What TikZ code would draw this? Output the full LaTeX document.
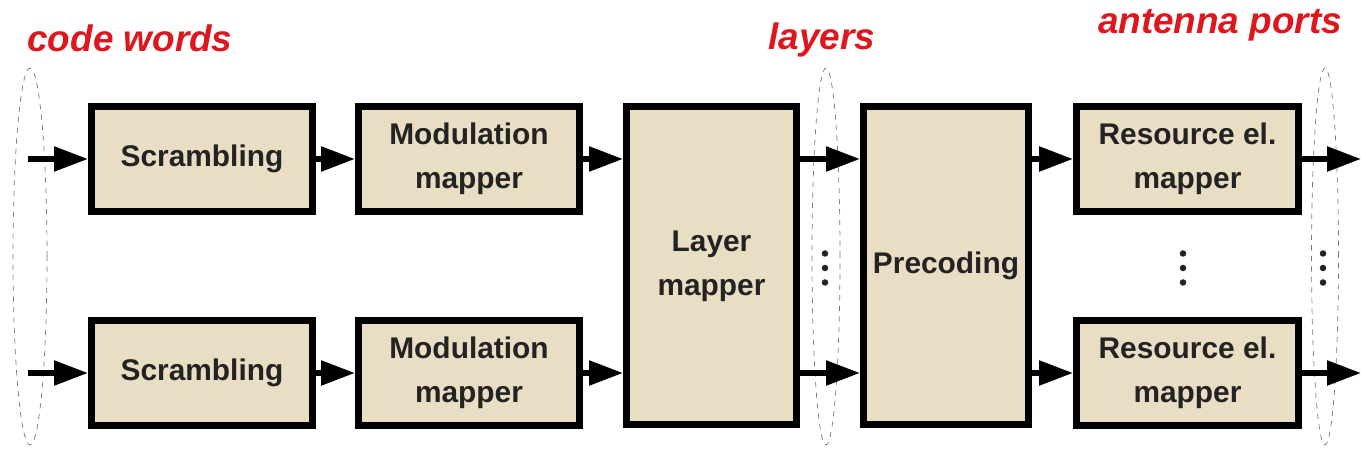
\documentclass[tikz,border=0pt]{standalone}
\usepackage{fontspec}
\setmainfont{Liberation Sans}
\usepackage{xcolor}
\usetikzlibrary{shapes.geometric, arrows.meta, positioning, calc}
\definecolor{boxfill}{RGB}{233, 222, 196}
\definecolor{boxtext}{RGB}{35, 35, 35}
\definecolor{lblred}{RGB}{222, 22, 30}
\definecolor{ringgray}{RGB}{120, 120, 120}
\tikzset{
  block/.style={rectangle, draw=black, fill=boxfill, line width=0.14cm,
                minimum width=#1, minimum height=2.10cm, align=center,
                text=boxtext, font=\fontsize{17}{25}\selectfont\bfseries},
  block/.default=4.42cm,
  tallblock/.style={block=#1, minimum height=6.36cm},
  tallblock/.default=3.40cm,
  arrow/.style={-{Triangle[length=0.68cm, width=0.48cm]}, line width=0.11cm, black},
  ring/.style={draw=ringgray, dashed, thin, ellipse, inner sep=0pt, minimum height=7.54cm},
  redlabel/.style={text=lblred, font=\fontsize{21}{24}\selectfont\bfseries\itshape},
  vdot/.style={fill=boxtext, draw=none},
}

\begin{document}
\begin{tikzpicture}
  \useasboundingbox (0,0) rectangle (27.22,9.1);

  % dashed groupings
  \node[ring, minimum width=0.68cm] (cwring) at (0.60,3.97) {};
  \node[ring, minimum width=0.56cm] (layring) at (16.52,3.97) {};
  \node[ring, minimum width=0.54cm] (apring) at (26.50,3.97) {};

  % blocks
  \node[block] (scr1) at (4.04,5.92) {Scrambling};
  \node[block] (scr2) at (4.04,1.64) {Scrambling};
  \node[block] (mod1) at (9.38,5.92) {Modulation\\mapper};
  \node[block] (mod2) at (9.38,1.64) {Modulation\\mapper};
  \node[tallblock] (lay) at (14.23,3.78) {Layer\\mapper};
  \node[tallblock=3.30cm] (pre) at (18.92,3.78) {Precoding};
  \node[block=4.44cm] (rem1) at (23.75,5.92) {Resource el.\\mapper};
  \node[block=4.44cm] (rem2) at (23.75,1.64) {Resource el.\\mapper};

  % labels
  \node[redlabel] (cwlbl) at (2.60,8.34) {code words};
  \node[redlabel] (laylbl) at (16.44,8.30) {layers};
  \node[redlabel] (aplbl) at (24.40,8.60) {antenna ports};

  % dots
  \coordinate (laydots) at (16.50,3.74);
  \coordinate (remdots) at (23.66,3.74);
  \coordinate (apdots) at (26.46,3.74);
  \foreach \c in {laydots, remdots, apdots}
    \foreach \dy in {-0.29, 0, 0.29}
      \fill[vdot] ($(\c)+(0,\dy)$) circle (0.065cm);

  % ends of the open arrows
  \coordinate (in1) at (0.56,5.92);
  \coordinate (in2) at (0.56,1.64);
  \coordinate (out1) at (27.22,5.92);
  \coordinate (out2) at (27.22,1.64);

  % connections
  \draw[arrow] (in1) -- (scr1);
  \draw[arrow] (in2) -- (scr2);
  \draw[arrow] (scr1) -- (mod1);
  \draw[arrow] (scr2) -- (mod2);
  \draw[arrow] (mod1) -- (lay.west |- mod1);
  \draw[arrow] (mod2) -- (lay.west |- mod2);
  \draw[arrow] (lay.east |- mod1) -- (pre.west |- mod1);
  \draw[arrow] (lay.east |- mod2) -- (pre.west |- mod2);
  \draw[arrow] (pre.east |- rem1) -- (rem1);
  \draw[arrow] (pre.east |- rem2) -- (rem2);
  \draw[arrow] (rem1) -- (out1);
  \draw[arrow] (rem2) -- (out2);
\end{tikzpicture}
\end{document}
